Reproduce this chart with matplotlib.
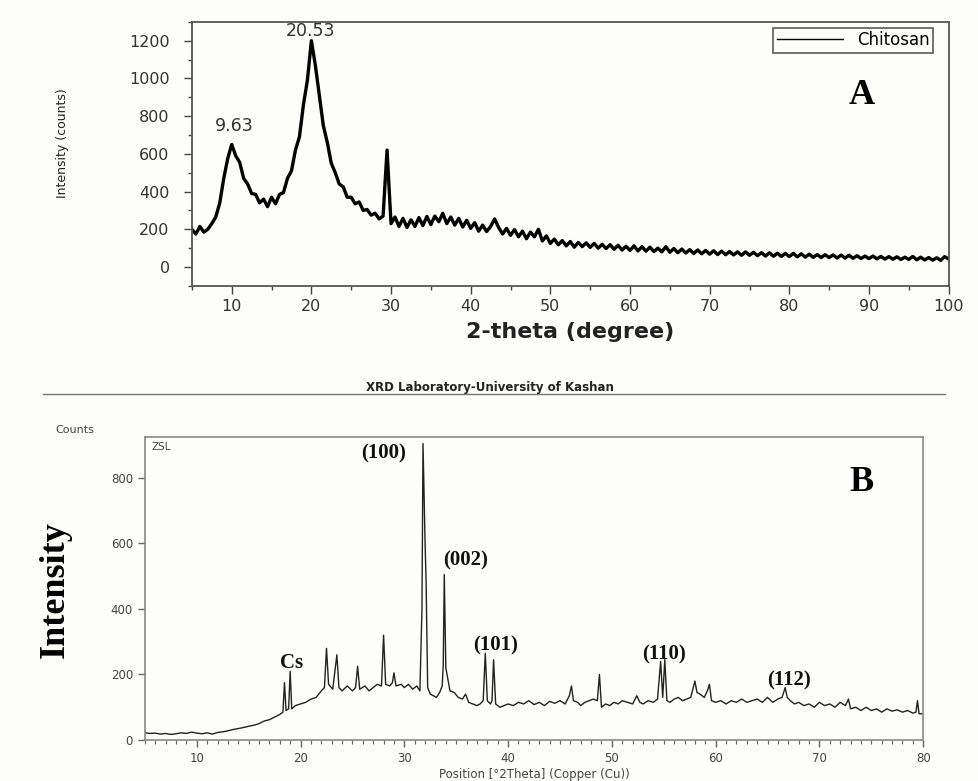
import matplotlib
matplotlib.use('Agg')
import matplotlib.pyplot as plt
import numpy as np
from matplotlib.lines import Line2D
from matplotlib.ticker import MultipleLocator

# ---- panel A : chitosan, 2-theta grid 5..100 step 0.5 ----
theta_a = np.arange(5.0, 100.01, 0.5)
counts_a = [
    200, 175, 215, 185, 200, 230, 265, 340, 470, 575,      # 5.0 - 9.5
    650, 590, 555, 470, 440, 390, 385, 340, 360, 320,      # 10 - 14.5
    370, 335, 385, 395, 470, 510, 620, 690, 860, 990,      # 15 - 19.5
    1200, 1070, 910, 750, 660, 550, 500, 440, 425, 370,    # 20 - 24.5
    370, 335, 345, 300, 305, 275, 285, 255, 270, 620,      # 25 - 29.5
    230, 265, 215, 258, 210, 250, 215, 262, 220, 268,      # 30 - 34.5
    225, 270, 240, 285, 230, 265, 222, 258, 212, 248,      # 35 - 39.5
    205, 235, 190, 222, 188, 215, 255, 210, 175, 205,      # 40 - 44.5
    168, 198, 160, 190, 150, 185, 160, 200, 138, 165,      # 45 - 49.5
    125, 148, 118, 140, 112, 135, 105, 130, 108, 128,      # 50 - 54.5
    104, 125, 100, 120, 98, 118, 94, 115, 90, 110,         # 55 - 59.5
    88, 112, 85, 108, 84, 105, 82, 100, 80, 108,           # 60 - 64.5
    78, 98, 76, 95, 74, 92, 72, 90, 70, 88,                # 65 - 69.5
    68, 86, 66, 84, 65, 82, 64, 80, 62, 80,                # 70 - 74.5
    62, 78, 60, 76, 58, 75, 57, 73, 56, 72,                # 75 - 79.5
    55, 72, 54, 70, 52, 68, 51, 66, 50, 65,                # 80 - 84.5
    50, 64, 48, 63, 47, 62, 46, 60, 45, 58,                # 85 - 89.5
    44, 58, 43, 56, 42, 55, 41, 54, 40, 52,                # 90 - 94.5
    40, 56, 38, 52, 37, 50, 36, 49, 35, 55,                # 95 - 99.5
    42]
peak_labels_a = ['9.63', '20.53']
peak_pos_a = [10.3, 19.9]
peak_lab_y_a = [748, 1252]

# ---- panel B : ZnO / chitosan ----
pos_b = [5, 5.5, 6, 6.5, 7, 7.5, 8, 8.5, 9, 9.5,
         10, 10.5, 11, 11.5, 12, 12.5, 13, 13.5, 14, 14.5,
         15, 15.5, 16, 16.5, 17, 17.5, 18, 18.3, 18.45, 18.6,
         18.85, 19.0, 19.15, 19.5, 20, 20.5, 21, 21.5, 22, 22.3,
         22.5, 22.7, 23.1, 23.5, 23.7, 24, 24.5, 25, 25.3, 25.5,
         25.7, 26.2, 26.6, 27, 27.4, 27.8, 28.0, 28.2, 28.6, 28.85,
         29.0, 29.2, 29.7, 30, 30.4, 30.8, 31.2, 31.5, 31.7, 31.8,
         32.0, 32.1, 32.25, 32.5, 32.8, 33.1, 33.4, 33.65, 33.75, 33.85,
         34.0, 34.4, 34.8, 35.2, 35.6, 35.9, 36.2, 36.6, 37, 37.3,
         37.6, 37.8, 38.0, 38.3, 38.45, 38.6, 38.8, 39.2, 39.6, 40,
         40.5, 41, 41.5, 42, 42.5, 43, 43.5, 44, 44.5, 45,
         45.5, 45.9, 46.1, 46.3, 46.7, 47, 47.4, 47.8, 48.2, 48.6,
         48.8, 49.0, 49.4, 49.8, 50.2, 50.6, 51, 51.5, 52, 52.4,
         52.7, 53, 53.5, 54, 54.4, 54.7, 54.9, 55.1, 55.3, 55.6,
         56, 56.4, 56.8, 57.2, 57.6, 58.0, 58.2, 58.5, 58.9, 59.2,
         59.4, 59.6, 60, 60.5, 61, 61.5, 62, 62.5, 63, 63.5,
         64, 64.5, 65, 65.5, 66, 66.4, 66.7, 66.9, 67.2, 67.6,
         68, 68.5, 69, 69.5, 70, 70.5, 71, 71.5, 72, 72.5,
         72.8, 73, 73.5, 74, 74.5, 75, 75.5, 76, 76.5, 77,
         77.5, 78, 78.5, 79, 79.3, 79.45, 79.6, 80]
cnt_b = [22, 20, 21, 18, 20, 17, 19, 22, 20, 24,
         21, 19, 22, 18, 23, 25, 28, 32, 35, 38,
         42, 45, 50, 58, 62, 70, 78, 85, 175, 90,
         95, 210, 95, 105, 110, 115, 125, 130, 150, 160,
         280, 170, 155, 260, 160, 150, 165, 150, 160, 225,
         155, 165, 150, 160, 170, 165, 320, 170, 165, 175,
         205, 165, 170, 160, 170, 155, 165, 150, 400, 905,
         600, 480, 160, 140, 135, 130, 145, 165, 230, 505,
         220, 150, 145, 130, 125, 140, 115, 110, 105, 110,
         120, 265, 120, 110, 120, 245, 110, 100, 105, 110,
         105, 115, 110, 120, 108, 115, 105, 118, 112, 120,
         110, 135, 165, 120, 115, 105, 115, 120, 125, 120,
         200, 100, 110, 105, 115, 110, 120, 115, 110, 135,
         115, 110, 120, 115, 125, 240, 130, 245, 120, 115,
         125, 130, 120, 125, 130, 180, 145, 140, 130, 150,
         170, 120, 115, 120, 110, 120, 115, 125, 115, 120,
         125, 115, 130, 115, 125, 130, 160, 130, 120, 110,
         115, 105, 110, 100, 115, 105, 110, 100, 115, 105,
         125, 95, 100, 90, 100, 90, 95, 85, 95, 88,
         92, 85, 90, 82, 85, 120, 80, 80]
hkl_labels = ['Cs', '(100)', '(002)', '(101)', '(110)', '(112)']
hkl_x = [19.1, 28.0, 35.9, 38.8, 55.0, 67.1]
hkl_y = [235, 876, 547, 290, 260, 183]

bg = '#fdfdf9'
fig = plt.figure(figsize=(9.79, 7.81), dpi=100, facecolor=bg)

# ---------------- A ----------------
ax1 = fig.add_axes([0.196, 0.634, 0.773, 0.338], facecolor=bg)
ax1.plot(theta_a, counts_a, color='black', linewidth=2.4, label='Chitosan')
ax1.set_xlim(5, 100)
ax1.set_ylim(-100, 1300)
ax1.set_yticks(np.arange(0, 1201, 200))
ax1.yaxis.set_minor_locator(MultipleLocator(100))
ax1.xaxis.set_major_locator(MultipleLocator(10))
ax1.xaxis.set_minor_locator(MultipleLocator(5))
ax1.set_xticks([10, 20, 30, 40, 50, 60, 70, 80, 90, 100])
ax1.tick_params(axis='both', which='major', direction='out', length=6, width=1,
                color='#444', labelsize=11.5, labelcolor='#333')
ax1.tick_params(axis='both', which='minor', direction='out', length=3, width=1, color='#444')
ax1.tick_params(axis='y', pad=10)
for s in ax1.spines.values():
    s.set_color('#555')
    s.set_linewidth(1.3)
ax1.set_xlabel('2-theta (degree)', fontsize=16, fontweight='bold', color='#222', labelpad=6)
fig.text(63 / 979, 1 - 143 / 781, 'Intensity (counts)', rotation=90, ha='center', va='center',
         fontsize=9, color='#222')
for lab, xx, yy in zip(peak_labels_a, peak_pos_a, peak_lab_y_a):
    ax1.text(xx, yy, lab, ha='center', va='center', fontsize=12.5, color='#333')
ax1.text(89.1, 907, 'A', ha='center', va='center', fontsize=26, fontweight='bold',
         family='Liberation Serif')
leg = ax1.legend(loc='upper right', bbox_to_anchor=(0.979, 0.977), fontsize=12,
                 handlelength=4, frameon=True, fancybox=False, borderpad=0.2,
                 borderaxespad=0)
leg.get_frame().set_edgecolor('#333')
leg.get_frame().set_linewidth(1.2)
leg.get_frame().set_facecolor(bg)
leg.get_lines()[0].set_linewidth(1.0)

# ---------------- B ----------------
fig.add_artist(Line2D([43 / 979, 945 / 979], [1 - 394 / 781, 1 - 394 / 781],
                      color='#777', linewidth=1))
fig.text(490 / 979, 1 - 387 / 781, 'XRD Laboratory-University of Kashan', ha='center',
         va='center', fontsize=8.5, fontweight='bold', color='#222')
fig.text(75 / 979, 1 - 430 / 781, 'Counts', ha='center', va='center', fontsize=8, color='#444')

ax2 = fig.add_axes([0.148, 0.0525, 0.795, 0.388], facecolor=bg)
ax2.plot(pos_b, cnt_b, color='#222', linewidth=1.0)
ax2.set_xlim(5, 80)
ax2.set_ylim(0, 925)
ax2.set_yticks([0, 200, 400, 600, 800])
ax2.xaxis.set_major_locator(MultipleLocator(10))
ax2.xaxis.set_minor_locator(MultipleLocator(1))
ax2.set_xticks([10, 20, 30, 40, 50, 60, 70, 80])
ax2.tick_params(axis='both', which='major', direction='out', length=5, width=1,
                color='#666', labelsize=8.5, labelcolor='#444')
ax2.tick_params(axis='x', which='minor', direction='out', length=3, width=0.8, color='#666')
for s in ax2.spines.values():
    s.set_color('#888')
    s.set_linewidth(1.2)
ax2.set_xlabel('Position [\u00b02Theta] (Copper (Cu))', fontsize=8.5, color='#444', labelpad=2)
fig.text(55 / 979, 1 - 590 / 781, 'Intensity', rotation=90, ha='center', va='center',
         fontsize=26, fontweight='bold', family='Liberation Serif')
ax2.text(0.008, 0.985, 'ZSL', transform=ax2.transAxes, ha='left', va='top', fontsize=7.5,
         color='#444')
for lab, xx, yy in zip(hkl_labels, hkl_x, hkl_y):
    ax2.text(xx, yy, lab, ha='center', va='center', fontsize=15, fontweight='bold',
             family='Liberation Serif', color='#111')
ax2.text(74.1, 785, 'B', ha='center', va='center', fontsize=26, fontweight='bold',
         family='Liberation Serif')

fig.savefig('out.png', dpi=100, facecolor=bg)
